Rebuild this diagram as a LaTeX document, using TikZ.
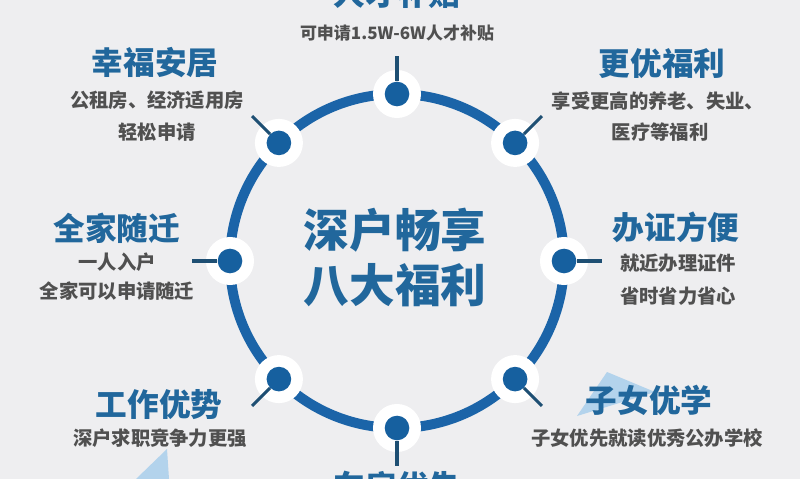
\documentclass[tikz,border=0pt]{standalone}
\usepackage{fontspec}
\setmainfont{Noto Sans CJK SC}
\usetikzlibrary{positioning,calc}
\definecolor{ringblue}{HTML}{1B64A8}
\definecolor{dotblue}{HTML}{16609F}
\definecolor{tickblue}{HTML}{1E4F73}
\definecolor{titleblue}{HTML}{21679C}
\definecolor{textgray}{HTML}{505050}
\definecolor{bggray}{HTML}{EEEEF0}
\definecolor{paleblue}{HTML}{B3D3EC}
\begin{document}
\begin{tikzpicture}[x=0.03cm,y=-0.03cm,
  ttl/.style={font=\bfseries\fontsize{27}{30}\selectfont, text=titleblue, inner sep=0pt},
  sub/.style={font=\bfseries\fontsize{16.5}{19}\selectfont, text=textgray, inner sep=0pt},
  big/.style={font=\bfseries\fontsize{39}{42}\selectfont, text=titleblue, inner sep=0pt},
  halo/.style={circle, fill=white, minimum size=41pt, inner sep=0pt},
  dot/.style={circle, fill=dotblue, minimum size=21pt, inner sep=0pt},
  tick/.style={draw=tickblue, line width=2.6pt}]
\clip (0,0) rectangle (800,479);
\fill[bggray] (0,0) rectangle (800,479);
% pale triangles
\fill[paleblue] (577,416) -- (607,372) -- (655,392) -- cycle;
\fill[paleblue] (136,479) -- (167,449) -- (169,479) -- cycle;
% ring
\coordinate (c) at (397,261);
\draw[ringblue, line width=8.5pt] (c) circle[radius=167];
\foreach \a/\n in {270/pa,315/pb,0/pc,45/pd,90/pe,135/pf,180/pg,225/ph}{
  \node[halo] at ($(c)+(\a:167)$) {};
  \node[dot] (\n) at ($(c)+(\a:167)$) {};
  \coordinate (\n t) at ($(c)+(\a:205)$);
  \draw[tick] (\n) -- (\n t);
}
% centre
\node[big] (mid1) at (395,230) {深户畅享};
\node[big] (mid2) at (395,285) {八大福利};
% labels
\node[ttl] (ta) at (397,-7) {人才补贴};
\node[sub, font=\bfseries\fontsize{14.5}{17}\selectfont] (sa) at (397,33) {可申请1.5W-6W人才补贴};
\node[ttl] (tb) at (662,64) {更优福利};
\node[sub] (sb1) at (658,101) {享受更高的养老、失业、};
\node[sub] (sb2) at (660,132) {医疗等福利};
\node[ttl] (tc) at (676,227) {办证方便};
\node[sub] (sc1) at (678,263) {就近办理证件};
\node[sub] (sc2) at (678,296) {省时省力省心};
\node[ttl] (td) at (649,400) {子女优学};
\node[sub] (sd) at (647,438) {子女优先就读优秀公办学校};
\node[ttl] (te) at (397,486) {车房优先};
\node[ttl] (tf) at (159,405) {工作优势};
\node[sub] (sf) at (160,438) {深户求职竞争力更强};
\node[ttl] (tg) at (117,228) {全家随迁};
\node[sub] (sg1) at (117,262) {一人入户};
\node[sub] (sg2) at (117,291) {全家可以申请随迁};
\node[ttl] (th) at (155,63) {幸福安居};
\node[sub] (sh1) at (157,100) {公租房、经济适用房};
\node[sub] (sh2) at (157,132) {轻松申请};
\end{tikzpicture}
\end{document}
